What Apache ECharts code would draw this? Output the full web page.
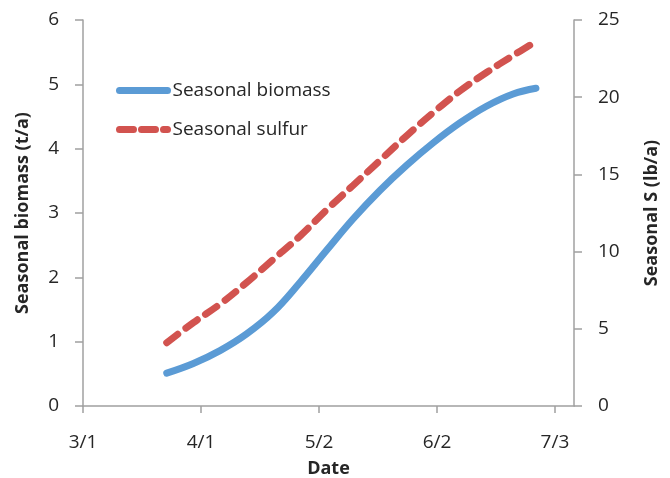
<!doctype html>
<html>
<head>
<meta charset="utf-8">
<title>Seasonal biomass and sulfur</title>
<script src="https://cdn.jsdelivr.net/npm/echarts@6/dist/echarts.min.js"></script>
<style>
  html, body { margin: 0; padding: 0; background: #fff; }
  #main { width: 670px; height: 478px; }
</style>
</head>
<body>
<div id="main"></div>
<script>
// days counted from 3/1
const days = [22, 29, 36, 43, 50, 57, 64, 71, 78, 85, 92, 99, 106, 113, 119];
const biomass = [0.51, 0.66, 0.86, 1.12, 1.46, 1.92, 2.42, 2.91, 3.35, 3.74, 4.09, 4.40, 4.66, 4.85, 4.94];
const sulfur = [4.1, 5.4, 6.6, 8.0, 9.5, 11.0, 12.7, 14.3, 15.9, 17.5, 19.0, 20.4, 21.6, 22.7, 23.6];
const tickDays = [0, 31, 62, 93, 124];
const tickLabels = ['3/1', '4/1', '5/2', '6/2', '7/3'];

const font = '"Open Sans", "DejaVu Sans", sans-serif';
const axisGray = '#a0a0a0';
const blue = '#5b9bd5';
const red = '#d2534f';

const chart = echarts.init(document.getElementById('main'));
chart.setOption({
  animation: false,
  textStyle: { fontFamily: font },
  grid: { left: 83, right: 96, top: 20, bottom: 72, outerBoundsMode: 'none', containLabel: false },
  legend: {
    orient: 'vertical',
    left: 111,
    top: 76,
    itemWidth: 48,
    itemHeight: 20,
    itemGap: 20,
    itemStyle: { opacity: 0 },
    textStyle: { fontSize: 19, color: '#262626', fontFamily: font },
    data: [
      { name: 'Seasonal biomass', lineStyle: { width: 7, color: blue, type: 'solid' } },
      { name: 'Seasonal sulfur', lineStyle: { width: 7, color: red, type: [14, 8] } }
    ]
  },
  xAxis: {
    type: 'value',
    min: 0,
    max: 129,
    name: 'Date',
    nameLocation: 'middle',
    nameGap: 54,
    nameTextStyle: { fontSize: 18, fontWeight: 'bold', color: '#262626' },
    axisLine: { lineStyle: { color: axisGray, width: 1.5 } },
    axisTick: { show: true, length: 7, customValues: tickDays, lineStyle: { color: axisGray, width: 1.5 } },
    axisLabel: {
      customValues: tickDays,
      margin: 27,
      fontSize: 19,
      color: '#262626',
      formatter: v => tickLabels[tickDays.indexOf(v)] || ''
    },
    splitLine: { show: false }
  },
  yAxis: [
    {
      type: 'value',
      min: 0,
      max: 6,
      interval: 1,
      name: 'Seasonal biomass (t/a)',
      nameLocation: 'middle',
      nameGap: 51,
      nameTextStyle: { fontSize: 18, fontWeight: 'bold', color: '#262626' },
      axisLine: { show: true, lineStyle: { color: axisGray, width: 1.5 } },
      axisTick: { show: true, length: 8, lineStyle: { color: axisGray, width: 1.5 } },
      axisLabel: { margin: 24, fontSize: 19, color: '#262626' },
      splitLine: { show: false }
    },
    {
      type: 'value',
      min: 0,
      max: 25,
      interval: 5,
      name: 'Seasonal S (lb/a)',
      nameLocation: 'middle',
      nameGap: 69,
      nameRotate: 90,
      nameTextStyle: { fontSize: 18, fontWeight: 'bold', color: '#262626' },
      axisLine: { show: true, lineStyle: { color: axisGray, width: 1.5 } },
      axisTick: { show: true, length: 8, lineStyle: { color: axisGray, width: 1.5 } },
      axisLabel: { margin: 24, fontSize: 19, color: '#262626' },
      splitLine: { show: false }
    }
  ],
  series: [
    {
      name: 'Seasonal biomass',
      type: 'line',
      yAxisIndex: 0,
      smooth: 0.4,
      symbol: 'none',
      color: blue,
      lineStyle: { width: 7, color: blue, cap: 'round' },
      data: days.map((d, i) => [d, biomass[i]])
    },
    {
      name: 'Seasonal sulfur',
      type: 'line',
      yAxisIndex: 1,
      smooth: 0.4,
      symbol: 'none',
      color: red,
      lineStyle: { width: 7, color: red, type: [14, 10], cap: 'round' },
      data: days.map((d, i) => [d, sulfur[i]])
    }
  ]
});
</script>
</body>
</html>
